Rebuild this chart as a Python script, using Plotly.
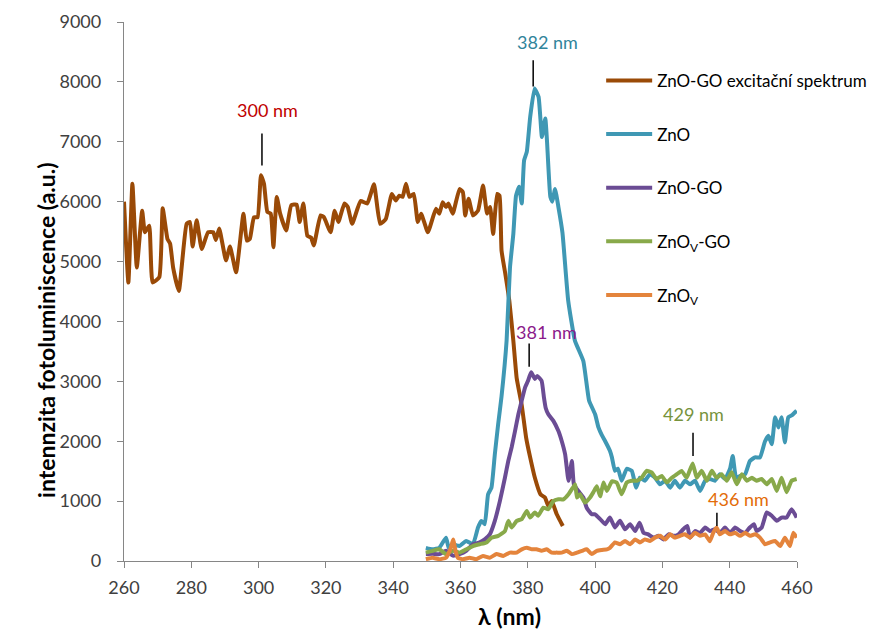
import plotly.graph_objects as go

# ---------------- data ----------------
exc_nm = [260.0, 261.3, 262.5, 263.8, 265.4, 266.2, 267.5, 268.5, 270.5, 271.5, 272.9, 273.7, 274.6, 276.3,
          278.6, 279.6, 280.4, 281.6, 283.1, 285.0, 286.5, 287.3, 288.3, 290.3, 291.5, 293.3, 295.5, 296.5,
          297.4, 298.6, 299.7, 300.7, 301.6, 302.6, 303.6, 304.4, 305.4, 306.4, 308.2, 309.7, 311.3, 312.2,
          313.3, 314.5, 315.6, 316.4, 318.4, 319.4, 321.4, 322.6, 323.7, 325.5, 326.5, 327.8, 330.3, 332.3,
          334.3, 336.1, 337.8, 339.6, 340.8, 341.8, 342.8, 343.8, 344.8, 346.1, 347.3, 348.3, 350.3, 352.7,
          353.7, 354.7, 355.7, 356.4, 357.7, 359.7, 360.7, 361.4, 362.4, 363.7, 365.2, 366.7, 367.9, 368.8,
          369.7, 370.9, 371.6, 372.2, 373.3, 374.5, 375.7, 376.7, 378.2, 379.5, 380.7, 382.1, 383.8, 385.1,
          386.1, 387.1, 388.6, 390.4]
exc_val = [6000, 4650, 6300, 4900, 5850, 5490, 5600, 4650, 4740, 5890, 5380, 5300, 4900, 4510,
           5630, 5660, 5250, 5690, 5210, 5490, 5490, 5360, 5550, 5020, 5250, 4820, 5800, 5350,
           5380, 5740, 5740, 6440, 6300, 5830, 5800, 5240, 6080, 5800, 5520, 5940, 5950, 5660,
           5970, 5430, 5400, 5270, 5770, 5740, 5490, 5850, 5660, 5970, 5910, 5630, 6010, 5970,
           6290, 5630, 5710, 6130, 6020, 6100, 6080, 6300, 6080, 6130, 5660, 5800, 5490, 5880,
           5800, 5990, 5910, 5970, 5800, 6210, 6160, 5770, 6050, 5770, 5850, 6270, 5800, 5910,
           5460, 6130, 6100, 5180, 4800, 4350, 3680, 3050, 2600, 2060, 1730, 1390, 1110, 1060,
           920, 1000, 780, 585]

zno_nm = [349.7, 351.7, 353.7, 355.7, 356.5, 357.7, 359.7, 361.7, 363.7, 365.2, 366.2, 367.2, 368.2, 369.2,
          370.2, 371.2, 372.2, 373.7, 374.7, 375.7, 376.5, 377.4, 378.2, 378.9, 379.7, 380.7, 382.0, 383.2,
          384.2, 385.2, 385.7, 386.7, 387.3, 388.1, 389.1, 390.3, 392.0, 394.0, 396.5, 398.2, 400.0, 401.0,
          402.0, 403.0, 404.4, 405.0, 405.9, 406.8, 407.9, 409.4, 410.9, 412.2, 413.3, 414.8, 416.3, 417.8,
          419.3, 420.8, 422.3, 423.7, 425.2, 426.7, 428.2, 429.7, 431.2, 432.7, 434.1, 435.6, 437.1, 438.6,
          440.1, 440.9, 441.9, 443.1, 444.6, 446.0, 447.5, 449.0, 450.5, 451.5, 452.5, 453.5, 454.5, 455.4,
          456.4, 457.4, 458.4, 459.9]
zno_val = [220, 195, 220, 390, 220, 280, 250, 335, 280, 560, 670, 615, 1115, 1225,
           1780, 2290, 2750, 3680, 4900, 5460, 6100, 6250, 5970, 6690, 6830, 7410, 7890, 7750,
           7080, 7390, 7020, 6080, 6000, 6210, 5910, 5480, 4350, 3680, 3340, 2680, 2450, 2230,
           2100, 2000, 1840, 1730, 1505, 1540, 1340, 1540, 1505, 1225, 1390, 1340, 1450, 1390,
           1280, 1340, 1225, 1340, 1225, 1340, 1280, 1340, 1170, 1340, 1370, 1340, 1450, 1370,
           1540, 1755, 1390, 1420, 1450, 1670, 1730, 1730, 2000, 2090, 1950, 2400, 2230, 2400,
           1980, 2400, 2430, 2510]

znogo_nm = [349.7, 351.7, 353.7, 355.7, 357.7, 359.7, 361.7, 363.7, 365.7, 367.2, 368.7, 370.2, 371.7, 373.2,
            374.2, 375.2, 376.2, 377.2, 378.2, 379.2, 380.0, 381.0, 382.1, 382.8, 384.1, 384.8, 385.3, 386.1,
            387.6, 389.1, 390.1, 391.1, 392.1, 393.1, 393.7, 395.0, 396.5, 397.5, 399.0, 400.0, 401.5, 403.0,
            404.4, 405.9, 407.4, 408.9, 410.4, 411.9, 413.2, 414.4, 415.8, 417.3, 418.8, 420.3, 421.8, 423.3,
            424.8, 426.2, 427.4, 428.2, 429.7, 431.2, 432.7, 434.1, 435.6, 437.1, 438.6, 440.1, 441.6, 443.1,
            444.6, 446.0, 447.2, 448.0, 449.5, 451.0, 452.5, 454.0, 455.4, 456.9, 458.4, 459.9]
znogo_val = [115, 120, 115, 170, 90, 115, 170, 280, 310, 360, 445, 670, 1000, 1390,
             1670, 1900, 2170, 2450, 2680, 2900, 3000, 3150, 3040, 3090, 3010, 2730, 2560, 2450,
             2340, 2170, 2000, 1780, 1340, 1670, 1280, 1170, 1060, 890, 780, 780, 700, 615,
             725, 560, 670, 530, 615, 500, 640, 470, 445, 390, 420, 360, 445, 420,
             445, 530, 585, 390, 500, 470, 560, 500, 530, 470, 560, 470, 560, 500,
             470, 560, 615, 500, 560, 810, 755, 670, 725, 725, 865, 725]

znovgo_nm = [349.7, 351.7, 353.7, 355.7, 357.7, 359.7, 361.7, 363.7, 365.7, 367.7, 369.2, 371.2, 373.2, 374.2,
             375.2, 376.7, 378.2, 379.7, 380.7, 382.1, 383.1, 384.6, 386.1, 387.6, 389.1, 390.6, 392.1, 393.4,
             394.1, 394.6, 395.5, 397.0, 398.5, 399.5, 400.5, 401.5, 402.5, 403.5, 405.0, 406.4, 407.9, 409.4,
             410.9, 412.4, 413.8, 415.3, 416.8, 418.3, 419.8, 421.3, 422.8, 424.3, 425.7, 427.2, 429.0, 430.2,
             431.7, 433.2, 434.7, 436.1, 437.6, 439.1, 440.6, 442.1, 443.6, 445.1, 446.6, 448.0, 449.5, 451.0,
             452.5, 454.0, 455.4, 456.9, 458.4, 459.9]
znovgo_val = [140, 170, 195, 115, 170, 140, 195, 250, 280, 310, 390, 420, 500, 670,
              560, 670, 700, 835, 725, 810, 755, 890, 865, 1000, 1030, 1030, 1115, 1225,
              1280, 1060, 1115, 975, 1060, 1150, 1250, 1080, 1310, 1170, 1330, 1310, 1115, 1310,
              1340, 1340, 1390, 1505, 1480, 1370, 1420, 1310, 1390, 1450, 1505, 1390, 1630, 1390,
              1505, 1340, 1505, 1390, 1450, 1340, 1480, 1280, 1450, 1340, 1390, 1340, 1370, 1280,
              1370, 1170, 1390, 1150, 1340, 1370]

znov_nm = [349.7, 351.7, 353.7, 355.7, 357.0, 357.8, 358.6, 359.2, 360.7, 362.7, 364.7, 366.7, 368.7, 370.7,
           372.7, 374.7, 376.7, 378.2, 379.7, 381.2, 382.6, 384.1, 385.6, 387.1, 388.6, 390.1, 391.6, 393.1,
           394.6, 396.1, 397.5, 399.0, 400.5, 402.0, 403.5, 404.4, 405.9, 407.4, 408.9, 410.4, 411.9, 413.3,
           414.8, 416.3, 417.8, 419.3, 420.8, 422.3, 423.7, 425.2, 426.7, 428.2, 429.7, 431.2, 432.7, 434.1,
           435.1, 436.1, 437.1, 438.6, 440.1, 441.6, 443.1, 444.6, 446.0, 447.5, 449.0, 450.5, 452.0, 453.5,
           455.0, 456.4, 457.9, 458.9, 459.9]
znov_val = [30, 55, 30, 55, 200, 360, 150, 55, 30, 55, 30, 85, 55, 115,
            85, 140, 140, 195, 220, 195, 195, 170, 195, 140, 140, 140, 170, 115,
            140, 170, 195, 115, 170, 185, 195, 220, 310, 280, 335, 280, 360, 310,
            360, 335, 390, 420, 360, 445, 390, 420, 445, 390, 470, 420, 445, 330,
            470, 560, 445, 500, 445, 470, 420, 470, 420, 445, 390, 280, 310, 335,
            250, 390, 250, 470, 390]

series_names = ["ZnO-GO excitační spektrum", "ZnO", "ZnO-GO", "ZnO<sub>V</sub>-GO", "ZnO<sub>V</sub>"]
series_colors = ["#9a4a07", "#3f98b4", "#6b4c94", "#88a94a", "#e4843c"]

# peak labels
peak_labels = ["300 nm", "382 nm", "381 nm", "429 nm", "436 nm"]
peak_nm = [301.0, 381.6, 380.4, 429.1, 436.2]
peak_line_lo = [6605, 7925, 3245, 1755, 585]
peak_line_hi = [7140, 8360, 3630, 2140, 805]
peak_text_y = [7525, 8665, 3830, 2460, 1040]
peak_text_x = [302.5, 386.0, 385.7, 429.1, 442.7]
peak_colors = ["#c00000", "#31849b", "#8b1a8b", "#77933c", "#e36c09"]

x_ticks = list(range(260, 461, 20))
y_ticks = list(range(0, 9001, 1000))

x_title = "λ (nm)"
y_title = "intennzita fotoluminiscence (a.u.)"

# ---------------- figure ----------------
xs = [exc_nm, zno_nm, znogo_nm, znovgo_nm, znov_nm]
ys = [exc_val, zno_val, znogo_val, znovgo_val, znov_val]

fig = go.Figure()
for i, (x, y) in enumerate(zip(xs, ys)):
    fig.add_trace(go.Scatter(
        x=x, y=y, mode="lines", name=series_names[i], legendgroup=f"g{i}",
        line=dict(color=series_colors[i], width=4, shape="spline", smoothing=0.4),
    ))

for i in range(len(peak_labels)):
    fig.add_shape(type="line", xref="x", yref="y",
                  x0=peak_nm[i], x1=peak_nm[i], y0=peak_line_lo[i], y1=peak_line_hi[i],
                  line=dict(color="black", width=1.5))
    fig.add_annotation(x=peak_text_x[i], y=peak_text_y[i], xref="x", yref="y",
                       text=peak_labels[i], showarrow=False,
                       font=dict(family="Lato", size=18, color=peak_colors[i]))

# axis titles (placed as in the reference)
fig.add_annotation(x=0.5735, y=-0.132, xref="paper", yref="paper", text=f"<b>{x_title}</b>",
                   showarrow=False, font=dict(family="Lato", size=23, color="#000000"))
fig.add_annotation(x=-0.1397, y=0.4286, xref="paper", yref="paper", text=f"<b>{y_title}</b>",
                   textangle=-90, showarrow=False, font=dict(family="Lato", size=23, color="#000000"))

axis_common = dict(
    showline=True, linecolor="#868686", linewidth=1.3,
    ticks="outside", tickcolor="#868686", ticklen=6, tickwidth=1.3,
    showgrid=False, zeroline=False,
    tickfont=dict(family="Lato", size=18, color="#404040"),
)

fig.update_layout(
    width=883, height=642,
    margin=dict(l=124, r=86, t=22, b=81, autoexpand=False),
    paper_bgcolor="white", plot_bgcolor="white",
    font=dict(family="Lato", color="#404040"),
    xaxis=dict(range=[260, 460], tickvals=x_ticks, ticklabelstandoff=4, **axis_common),
    yaxis=dict(range=[0, 9000], tickvals=y_ticks, ticklabelstandoff=12, **axis_common),
    legend=dict(x=0.709, y=0.924, xanchor="left", yanchor="top",
                font=dict(family="Lato", size=17, color="#000000"),
                tracegroupgap=28.5, traceorder="grouped", itemwidth=46,
                bgcolor="rgba(0,0,0,0)"),
    showlegend=True,
)

fig.write_html("out.html")
